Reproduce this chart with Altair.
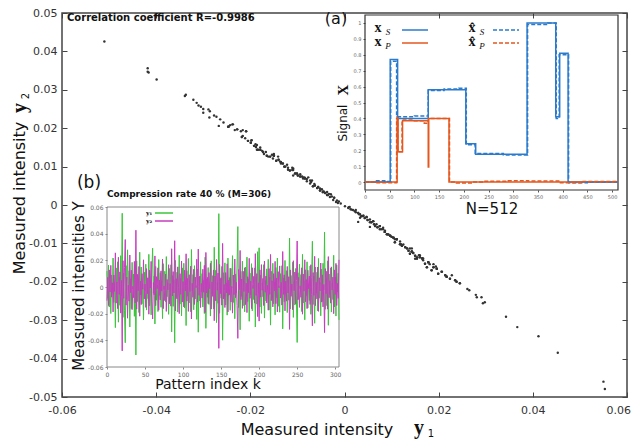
import altair as alt
import pandas as pd

# ---------------- data: measured intensities (pattern index k = 0..305) ----------------
y1 = [
0.0120,-0.0085,0.0165,-0.0150,0.0054,-0.0199,0.0090,-0.0041,0.0217,-0.0116,
0.0033,-0.0305,0.0143,-0.0052,0.0189,-0.0264,0.0075,-0.0137,0.0235,-0.0067,
0.0553,-0.0228,0.0104,-0.0179,-0.0418,0.0160,-0.0094,0.0279,-0.0024,0.0122,
-0.0300,0.0061,-0.0162,0.0185,-0.0014,0.0097,-0.0220,0.0136,-0.0510,0.0196,
-0.0109,0.0040,-0.0192,0.0261,-0.0058,0.0150,-0.0126,0.0022,-0.0247,0.0111,
-0.0031,0.0171,-0.0173,0.0068,-0.0088,0.0245,-0.0141,0.0008,-0.0209,0.0129,
0.0291,-0.0046,0.0082,-0.0277,0.0154,-0.0099,0.0015,-0.0184,0.0206,-0.0063,
0.0107,-0.0152,0.0047,-0.0237,0.0175,-0.0018,0.0118,-0.0111,0.0228,-0.0073,
0.0029,-0.0205,0.0139,-0.0035,0.0167,-0.0337,0.0086,-0.0145,0.0054,-0.0418,
0.0199,-0.0080,0.0111,-0.0188,0.0001,0.0238,-0.0128,0.0065,-0.0216,0.0143,
-0.0048,0.0178,-0.0158,0.0036,-0.0289,0.0122,-0.0069,0.0214,-0.0120,0.0043,
-0.0186,0.0281,-0.0029,0.0093,-0.0171,0.0160,-0.0090,0.0011,-0.0243,0.0133,
-0.0339,0.0075,-0.0105,0.0189,-0.0037,0.0100,-0.0150,0.0049,-0.0199,0.0224,
-0.0310,0.0057,-0.0077,0.0146,-0.0131,0.0018,-0.0218,0.0196,-0.0052,0.0085,
-0.0165,0.0298,-0.0101,0.0125,-0.0267,0.0033,-0.0122,0.0550,-0.0197,0.0063,
-0.0084,0.0154,-0.0399,0.0107,-0.0022,0.0181,-0.0135,0.0029,-0.0211,0.0217,
-0.0063,0.0070,-0.0175,0.0139,-0.0008,0.0235,-0.0116,0.0054,-0.0238,0.0097,
-0.0044,0.0165,0.0453,-0.0154,0.0024,-0.0321,0.0118,-0.0071,0.0194,-0.0140,
0.0043,-0.0186,0.0150,-0.0033,0.0224,-0.0109,0.0061,-0.0257,0.0104,-0.0058,
0.0175,-0.0179,0.0013,-0.0094,0.0143,-0.0300,0.0078,-0.0128,0.0265,-0.0041,
0.0294,-0.0150,0.0090,-0.0198,0.0031,-0.0073,0.0167,-0.0233,0.0049,-0.0105,
0.0136,-0.0016,0.0207,-0.0173,0.0075,-0.0286,0.0118,-0.0056,0.0178,-0.0126,
0.0036,-0.0209,0.0146,-0.0080,0.0217,-0.0145,0.0009,-0.0189,0.0100,-0.0037,
0.0160,-0.0314,0.0065,-0.0111,0.0199,-0.0052,0.0122,-0.0192,0.0057,-0.0099,
0.0367,-0.0165,0.0086,-0.0027,0.0185,-0.0228,0.0040,-0.0135,0.0139,-0.0067,
-0.0416,0.0107,-0.0088,0.0171,-0.0012,0.0093,-0.0184,0.0245,-0.0120,0.0047,
-0.0246,0.0129,-0.0064,0.0189,-0.0158,0.0024,-0.0101,0.0158,-0.0205,0.0070,
0.0343,-0.0131,0.0082,-0.0272,0.0150,-0.0046,0.0111,-0.0179,0.0214,-0.0084,
0.0036,-0.0216,0.0133,-0.0109,0.0178,-0.0022,0.0412,-0.0167,0.0063,-0.0140,
0.0196,-0.0287,0.0097,-0.0056,0.0143,-0.0188,0.0029,-0.0094,0.0238,-0.0150,
0.0075,-0.0218,0.0165,-0.0037,0.0104,-0.0247]

y2 = [
-0.0102,0.0072,-0.0139,0.0128,-0.0038,0.0162,-0.0076,0.0031,-0.0187,0.0090,
-0.0033,0.0256,-0.0121,0.0038,-0.0162,0.0223,-0.0055,0.0113,-0.0196,0.0049,
-0.0479,0.0197,-0.0085,0.0144,0.0356,-0.0136,0.0074,-0.0234,0.0013,-0.0106,
0.0240,-0.0042,0.0126,-0.0170,0.0005,-0.0080,0.0192,-0.0119,0.0426,-0.0166,
0.0095,-0.0028,0.0154,-0.0219,0.0044,-0.0132,0.0100,-0.0016,0.0204,-0.0089,
0.0021,-0.0153,0.0138,-0.0050,0.0069,-0.0204,0.0126,-0.0008,0.0192,-0.0110,
-0.0240,0.0033,-0.0059,0.0233,-0.0140,0.0077,-0.0012,0.0144,-0.0174,0.0051,
-0.0097,0.0121,-0.0031,0.0210,-0.0162,0.0008,-0.0102,0.0097,-0.0183,0.0056,
-0.0021,0.0167,-0.0127,0.0026,-0.0144,0.0287,-0.0067,0.0115,-0.0045,0.0347,
-0.0179,0.0062,-0.0089,0.0151,-0.0003,-0.0200,0.0100,-0.0055,0.0195,-0.0113,
0.0041,-0.0149,0.0126,-0.0029,0.0249,-0.0106,0.0064,-0.0183,0.0092,-0.0034,
0.0156,-0.0240,0.0028,-0.0077,0.0133,-0.0131,0.0074,-0.0005,0.0208,-0.0113,
0.0284,-0.0063,0.0082,-0.0154,0.0026,-0.0083,0.0133,-0.0039,0.0162,-0.0192,
0.0259,-0.0045,0.0072,-0.0125,0.0108,-0.0013,0.0177,-0.0166,0.0038,-0.0070,
0.0128,-0.0253,0.0082,-0.0103,0.0206,-0.0024,0.0105,-0.0460,0.0169,-0.0050,
0.0069,-0.0136,0.0327,-0.0089,0.0019,-0.0154,0.0108,-0.0044,0.0174,-0.0187,
0.0051,-0.0058,0.0141,-0.0113,0.0004,-0.0196,0.0090,-0.0057,0.0210,-0.0080,
0.0035,-0.0139,-0.0385,0.0131,-0.0019,0.0274,-0.0095,0.0060,-0.0160,0.0118,
-0.0034,0.0144,-0.0132,0.0029,-0.0192,0.0077,-0.0042,0.0215,-0.0085,0.0044,
-0.0162,0.0144,-0.0011,0.0080,-0.0121,0.0250,-0.0063,0.0100,-0.0222,0.0031,
-0.0256,0.0128,-0.0076,0.0168,-0.0024,0.0064,-0.0139,0.0195,-0.0039,0.0082,
-0.0119,0.0012,-0.0174,0.0138,-0.0055,0.0244,-0.0102,0.0047,-0.0149,0.0100,
-0.0029,0.0192,-0.0125,0.0068,-0.0187,0.0115,-0.0006,0.0158,-0.0083,0.0034,
-0.0136,0.0266,-0.0055,0.0091,-0.0179,0.0043,-0.0106,0.0154,-0.0045,0.0077,
-0.0318,0.0128,-0.0070,0.0022,-0.0170,0.0197,-0.0028,0.0112,-0.0127,0.0049,
0.0345,-0.0097,0.0072,-0.0153,0.0009,-0.0077,0.0144,-0.0204,0.0097,-0.0031,
0.0204,-0.0110,0.0055,-0.0162,0.0126,-0.0013,0.0082,-0.0131,0.0167,-0.0058,
-0.0291,0.0108,-0.0063,0.0230,-0.0140,0.0035,-0.0089,0.0150,-0.0183,0.0069,
-0.0029,0.0180,-0.0113,0.0091,-0.0149,0.0019,-0.0342,0.0138,-0.0050,0.0118,
-0.0166,0.0228,-0.0080,0.0047,-0.0121,0.0151,-0.0021,0.0074,-0.0200,0.0128,
-0.0055,0.0177,-0.0139,0.0026,-0.0085,0.0204]

# ---------------- data: inset (a) signals, step functions over N=512 ----------------
xs_k = [0, 51, 66, 128, 204, 224, 328, 386, 394, 411, 512]
xs_v = [0, 0.77, 0.40, 0.58, 0.24, 0.175, 1.0, 0.41, 0.81, 0, 0]
xp_k = [0, 65, 67, 76, 128, 129, 170, 512]
xp_v = [0, 0.41, 0.19, 0.385, 0.095, 0.40, 0, 0]
xsh_k = [0, 20, 40, 52, 64, 100, 128, 160, 190, 205, 223, 280, 329, 370, 387, 393, 412, 450, 512]
xsh_v = [0, 0.008, 0.004, 0.76, 0.41, 0.415, 0.575, 0.585, 0.59, 0.235, 0.18, 0.17, 0.99, 1.0, 0.40, 0.80, -0.005, 0.0, 0.0]
xph_k = [0, 20, 64, 66, 75, 100, 120, 128, 171, 185, 215, 240, 290, 330, 394, 440, 512]
xph_v = [0, -0.005, 0.40, 0.19, 0.39, 0.385, 0.37, 0.40, 0.0, -0.006, 0.0, 0.005, 0.008, 0.006, -0.005, 0.003, 0.0]

# axis ticks
main_x_ticks = [-0.06, -0.04, -0.02, 0, 0.02, 0.04, 0.06]
main_y_ticks = [-0.05, -0.04, -0.03, -0.02, -0.01, 0, 0.01, 0.02, 0.03, 0.04, 0.05]
b_x_ticks = [0, 50, 100, 150, 200, 250, 300]
b_y_ticks = [-0.06, -0.04, -0.02, 0, 0.02, 0.04, 0.06]
a_x_ticks = [0, 50, 100, 150, 200, 250, 300, 350, 400, 450, 500]
a_y_ticks = [0, 0.1, 0.2, 0.3, 0.4, 0.5, 0.6, 0.7, 0.8, 0.9, 1.0]

MAIN_X = [-0.06, 0.06]
MAIN_Y = [-0.05, 0.05]
B_X = [0, 305]
B_Y = [-0.06, 0.06]
A_X = [0, 512]
A_Y = [-0.05, 1.05]

# ---------------- layout ----------------
PAD_L, PAD_T, PAD_R, PAD_B = 54, 5, 5, 42
W, H = 565, 384
X0, Y0 = 8 + PAD_L, 8 + PAD_T   # page position of plot origin


def px(x):
    return x - X0


def py(y):
    return y - Y0


B_RX, B_RY = [px(107), px(339)], [py(367), py(207)]
A_RX, A_RY = [px(365), px(618)], [py(190), py(15)]

GREEN, MAGENTA = "#3cc43c", "#c73cbf"
BLUE, ORANGE = "#2b7bcd", "#e4571e"

df = pd.DataFrame({"k": list(range(len(y1))), "y1": y1, "y2": y2})

rows = []
for name, ks, vs in [("a_xs", xs_k, xs_v), ("b_xp", xp_k, xp_v),
                     ("c_xsh", xsh_k, xsh_v), ("d_xph", xph_k, xph_v)]:
    for k, v in zip(ks, vs):
        rows.append({"series": name, "k": k, "v": v})
df_a = pd.DataFrame(rows)

one = pd.DataFrame({"a": [0]})

expr2 = "toString(round(datum.value*100)/100)"
expr1 = "toString(round(datum.value*10)/10)"
# the last main x label is drawn as a right-aligned annotation so it stays inside the page
expr2x = "datum.value >= 0.06 ? '' : toString(round(datum.value*100)/100)"

# ---------------- main scatter ----------------
main_x_scale = alt.Scale(domain=MAIN_X, nice=False, zero=False)
main_y_scale = alt.Scale(domain=MAIN_Y, nice=False, zero=False)

scatter = alt.Chart(df).mark_circle(size=6, color="#333333", opacity=1).encode(
    x=alt.X("y1:Q", scale=main_x_scale,
            axis=alt.Axis(orient="bottom", values=main_x_ticks, labelExpr=expr2x, offset=-5,
                          tickSize=5, domain=False, grid=False, title=None, labelFontSize=11,
                          labelColor="#333", labelPadding=7, tickColor="#444",
                          labelFlush=False, labelOverlap=False)),
    y=alt.Y("y2:Q", scale=main_y_scale,
            axis=alt.Axis(orient="left", values=main_y_ticks, labelExpr=expr2, offset=-5,
                          tickSize=5, domain=False, grid=False, title=None, labelFontSize=11,
                          labelColor="#333", labelPadding=5, tickColor="#444",
                          labelFlush=False, labelOverlap=False)),
)

mirror = alt.Chart(df).mark_circle(size=1, opacity=0).encode(
    x=alt.X("y1:Q", scale=main_x_scale,
            axis=alt.Axis(orient="top", values=main_x_ticks, labels=False, offset=-5,
                          tickSize=5, domain=False, grid=False, title=None, tickColor="#444")),
    y=alt.Y("y2:Q", scale=main_y_scale,
            axis=alt.Axis(orient="right", values=main_y_ticks, labels=False, offset=-5,
                          tickSize=5, domain=False, grid=False, title=None, tickColor="#444")),
)

# ---------------- inset (b) ----------------
b_xs = alt.Scale(domain=B_X, range=B_RX, nice=False, zero=False)
b_ys = alt.Scale(domain=B_Y, range=B_RY, nice=False, zero=False)

b_lines = alt.Chart(df).transform_fold(["y1", "y2"], as_=["series", "val"]).mark_line(
    strokeWidth=1, clip=False).encode(
    x=alt.X("k:Q", scale=b_xs,
            axis=alt.Axis(orient="bottom", offset=B_RY[0] - H, values=b_x_ticks, tickSize=2,
                          domain=False, grid=False, title=None, labelFontSize=6,
                          labelColor="#666", labelPadding=2, tickColor="#888",
                          labelFlush=False, labelOverlap=False)),
    y=alt.Y("val:Q", scale=b_ys,
            axis=alt.Axis(orient="left", offset=-B_RX[0], values=b_y_ticks, labelExpr=expr2,
                          tickSize=2, domain=False, grid=False, title=None, labelFontSize=6,
                          labelColor="#666", labelPadding=2, tickColor="#888",
                          labelFlush=False, labelOverlap=False)),
    color=alt.Color("series:N", scale=alt.Scale(domain=["y1", "y2"], range=[GREEN, MAGENTA]),
                    legend=None),
)

b_frame = alt.Chart(pd.DataFrame({"x0": [B_X[0]], "x1": [B_X[1]], "y0": [B_Y[0]], "y1": [B_Y[1]]})
                    ).mark_rect(fill="transparent", stroke="#888", strokeWidth=1).encode(
    x=alt.X("x0:Q", scale=b_xs, axis=None), x2="x1:Q",
    y=alt.Y("y0:Q", scale=b_ys, axis=None), y2="y1:Q")

# ---------------- inset (a) ----------------
a_xs = alt.Scale(domain=A_X, range=A_RX, nice=False, zero=False)
a_ys = alt.Scale(domain=A_Y, range=A_RY, nice=False, zero=False)

a_lines = alt.Chart(df_a).mark_line(interpolate="step-after", strokeWidth=1.5).encode(
    x=alt.X("k:Q", scale=a_xs,
            axis=alt.Axis(orient="bottom", offset=A_RY[0] - H, values=a_x_ticks, tickSize=2,
                          domain=False, grid=False, title=None, labelFontSize=5,
                          labelColor="#666", labelPadding=2, tickColor="#555",
                          labelFlush=False, labelOverlap=False)),
    y=alt.Y("v:Q", scale=a_ys,
            axis=alt.Axis(orient="left", offset=-A_RX[0], values=a_y_ticks, labelExpr=expr1,
                          tickSize=2, domain=False, grid=False, title=None, labelFontSize=5,
                          labelColor="#666", labelPadding=2, tickColor="#555",
                          labelFlush=False, labelOverlap=False)),
    color=alt.Color("series:N", scale=alt.Scale(domain=["a_xs", "b_xp", "c_xsh", "d_xph"],
                                                range=[BLUE, ORANGE, BLUE, ORANGE]), legend=None),
    strokeDash=alt.StrokeDash("series:N", scale=alt.Scale(domain=["a_xs", "b_xp", "c_xsh", "d_xph"],
                                                          range=[[1, 0], [1, 0], [4, 2], [4, 2]]),
                              legend=None),
)

a_frame = alt.Chart(pd.DataFrame({"x0": [A_X[0]], "x1": [A_X[1]], "y0": [A_Y[0]], "y1": [A_Y[1]]})
                    ).mark_rect(fill="transparent", stroke="#333", strokeWidth=1.2).encode(
    x=alt.X("x0:Q", scale=a_xs, axis=None), x2="x1:Q",
    y=alt.Y("y0:Q", scale=a_ys, axis=None), y2="y1:Q")


# ---------------- annotations (positions given in page pixels) ----------------
def txt(s, x, y, size, **kw):
    kw.setdefault("color", "#111")
    kw.setdefault("align", "center")
    kw.setdefault("baseline", "middle")
    return alt.Chart(one).mark_text(text=s, fontSize=size, **kw).encode(
        x=alt.value(px(x)), y=alt.value(py(y)))


def rule(x1, x2, y, color, dash=None):
    kw = {"color": color, "strokeWidth": 1.5}
    if dash:
        kw["strokeDash"] = dash
    return alt.Chart(one).mark_rule(**kw).encode(
        x=alt.value(px(x1)), x2=alt.value(px(x2)), y=alt.value(py(y)))


SERIF = "Liberation Serif"
texts = [
    txt("0.06", 631, 411, 11, align="right", color="#333"),
    txt("Measured intensity", 317, 430, 16),
    txt("y", 419, 428, 20, font=SERIF, fontWeight="bold"),
    txt("1", 431, 434, 10),
    txt("Measured intensity", 20, 198, 16, angle=270),
    txt("y", 20, 108, 20, angle=270, font=SERIF, fontWeight="bold"),
    txt("2", 26, 96, 10, angle=270),
    txt("Correlation coefficient R=-0.9986", 67, 18, 10, align="left", fontWeight="bold"),
    txt("(a)", 336, 19, 16),
    txt("(b)", 89, 183, 17),
    txt("Compression rate 40 % (M=306)", 107, 194, 9, align="left", fontWeight="bold"),
    txt("Measured intensities Y", 79, 286, 15, angle=270),
    txt("Pattern index k", 208, 385, 14),
    txt("Signal", 343, 123, 12, angle=270),
    txt("X", 343, 90, 15, angle=270, font=SERIF, fontWeight="bold"),
    txt("N=512", 492, 209, 15),
    # legend (a)
    txt("x", 378, 28, 14, font=SERIF, fontWeight="bold"),
    txt("S", 388, 32, 9, font=SERIF, fontStyle="italic"),
    txt("x", 378, 42, 14, font=SERIF, fontWeight="bold"),
    txt("P", 388, 46, 9, font=SERIF, fontStyle="italic"),
    txt("x\u0302", 472, 28, 14, font=SERIF, fontWeight="bold"),
    txt("S", 482, 32, 9, font=SERIF, fontStyle="italic"),
    txt("x\u0302", 472, 42, 14, font=SERIF, fontWeight="bold"),
    txt("P", 482, 46, 9, font=SERIF, fontStyle="italic"),
    # legend (b)
    txt("y\u2081", 149, 213, 6, font="DejaVu Serif", fontWeight="bold"),
    txt("y\u2082", 149, 221, 6, font="DejaVu Serif", fontWeight="bold"),
]

rules = [
    rule(402, 428, 30, BLUE),
    rule(402, 428, 43, ORANGE),
    rule(493, 519, 30, BLUE, [4, 2]),
    rule(493, 519, 43, ORANGE, [4, 2]),
    rule(155, 173, 213, GREEN),
    rule(155, 173, 221, MAGENTA),
]

chart = alt.layer(
    scatter, mirror, b_frame, b_lines, a_frame, a_lines, *rules, *texts
).resolve_scale(
    x="independent", y="independent", color="independent", strokeDash="independent"
).resolve_axis(
    x="independent", y="independent"
).properties(
    width=W, height=H,
    autosize=alt.AutoSizeParams(type="none"),
    padding={"left": PAD_L, "top": PAD_T, "right": PAD_R, "bottom": PAD_B},
).configure(
    font="DejaVu Sans"
).configure_view(
    stroke="#444", strokeWidth=1.5
)

chart.save("out.html", embed_options={"renderer": "svg", "actions": False})
